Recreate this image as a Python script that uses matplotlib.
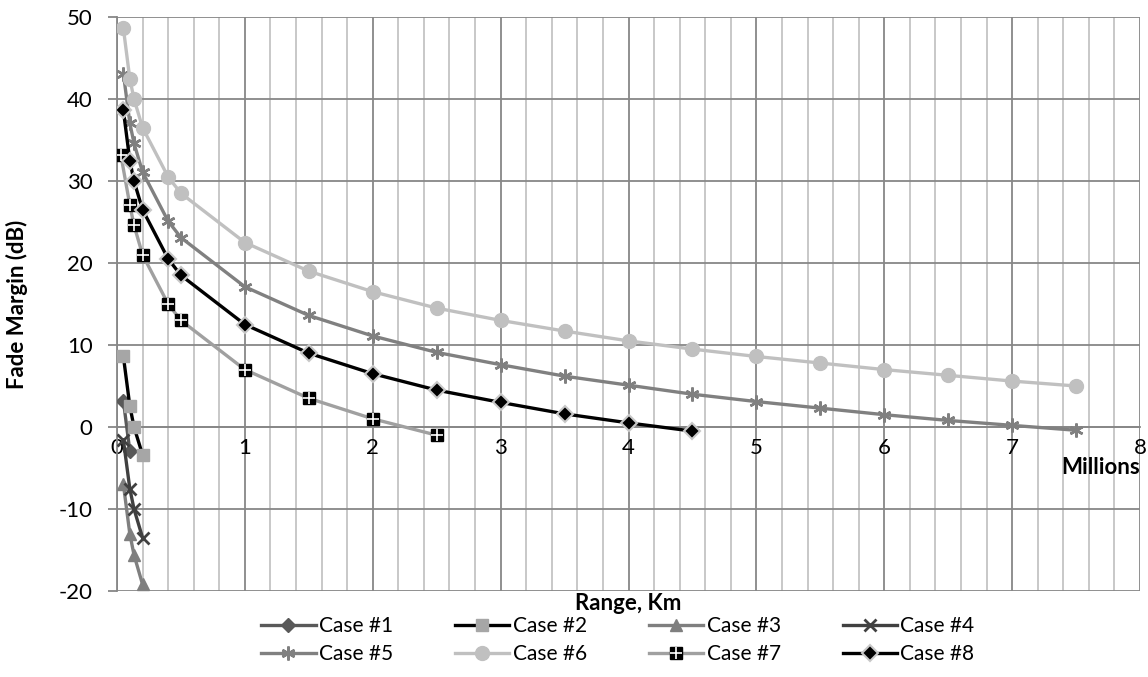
import matplotlib

matplotlib.use("Agg")
import matplotlib.pyplot as plt
from matplotlib.legend_handler import HandlerTuple
from matplotlib.ticker import MultipleLocator

plt.rcParams["font.family"] = ["Lato", "DejaVu Sans"]
plt.rcParams["axes.unicode_minus"] = False

# range in millions of km, fade margin in dB
x_short = [0.05, 0.1, 0.133, 0.2]
x_full = [0.05, 0.1, 0.133, 0.2, 0.4, 0.5, 1, 1.5, 2, 2.5, 3, 3.5, 4, 4.5, 5, 5.5, 6, 6.5, 7, 7.5]

case1_x = [0.05, 0.1]
case1_y = [3.2, -2.9]
case2_y = [8.6, 2.6, 0.0, -3.4]
case3_y = [-7.0, -13.0, -15.6, -19.2]
case4_y = [-1.6, -7.5, -10.0, -13.5]
case5_y = [43.1, 37.1, 34.6, 31.1, 25.1, 23.1, 17.1, 13.6, 11.1, 9.1, 7.6, 6.2,
           5.1, 4.0, 3.1, 2.3, 1.5, 0.8, 0.2, -0.4]
case6_y = [48.6, 42.5, 40.0, 36.5, 30.5, 28.5, 22.5, 19.0, 16.5, 14.5, 13.0, 11.7,
           10.5, 9.5, 8.6, 7.8, 7.0, 6.3, 5.6, 5.0]
case7_x = [0.03, 0.1, 0.133, 0.2, 0.4, 0.5, 1, 1.5, 2, 2.5]
case7_y = [33.2, 27.1, 24.6, 21.0, 15.0, 13.0, 7.0, 3.5, 1.0, -1.0]
case8_x = [0.05, 0.1, 0.133, 0.2, 0.4, 0.5, 1, 1.5, 2, 2.5, 3, 3.5, 4, 4.5]
case8_y = [38.6, 32.5, 30.0, 26.5, 20.5, 18.5, 12.5, 9.0, 6.5, 4.5, 3.0, 1.6, 0.5, -0.5]

x_ticks = [0, 1, 2, 3, 4, 5, 6, 7, 8]
y_ticks = [-20, -10, 0, 10, 20, 30, 40, 50]
labels = ["Case #1", "Case #2", "Case #3", "Case #4",
          "Case #5", "Case #6", "Case #7", "Case #8"]

fig = plt.figure(figsize=(11.48, 6.77), dpi=100)
ax = fig.add_axes([117 / 1148, 1 - 591 / 677, (1140 - 117) / 1148, (591 - 17) / 677])

lw = 2.4
ms = 8
h1, = ax.plot(case1_x, case1_y, color="#595959", lw=lw, marker="D", ms=7, zorder=3)
h2, = ax.plot(x_short, case2_y, color="black", lw=lw, marker="s", ms=ms,
              mfc="#a6a6a6", mec="#a6a6a6", zorder=3)
h3, = ax.plot(x_short, case3_y, color="#7f7f7f", lw=lw, marker="^", ms=ms + 1, zorder=3)
h4, = ax.plot(x_short, case4_y, color="#404040", lw=lw, marker="x", ms=ms, mew=2, zorder=3)
h5, = ax.plot(x_full, case5_y, color="#808080", lw=lw, marker=(6, 2, 0), ms=ms + 2, mew=1.8, zorder=3)
h6, = ax.plot(x_full, case6_y, color="#c0c0c0", lw=lw, marker="o", ms=ms + 2, zorder=3)
h7, = ax.plot(case7_x, case7_y, color="#a0a0a0", lw=lw, marker="s", ms=ms + 1,
              mfc="black", mec="black", zorder=3)
h7b, = ax.plot(case7_x, case7_y, ls="none", marker="+", ms=ms + 1, mew=1.2, color="white", zorder=4)
h8, = ax.plot(case8_x, case8_y, color="black", lw=lw, marker="D", ms=ms,
              mfc="black", mec="#c8c8c8", mew=1.5, zorder=3)

ax.set_xlim(0, 8)
ax.set_ylim(-20, 50)
ax.set_xticks(x_ticks)
ax.set_yticks(y_ticks)
ax.xaxis.set_minor_locator(MultipleLocator(0.2))
ax.grid(which="major", color="#878787", lw=1.3)
ax.grid(which="minor", axis="x", color="#c4c4c4", lw=1.3)
ax.set_axisbelow(True)

for side in ["top", "right"]:
    ax.spines[side].set_visible(False)
ax.spines["bottom"].set_position(("data", 0))
for side in ["bottom", "left"]:
    ax.spines[side].set_color("#878787")
    ax.spines[side].set_linewidth(1.3)
ax.tick_params(axis="x", which="both", length=0, labelsize=16, pad=8)
ax.tick_params(axis="y", length=6.5, color="#878787", width=1.3, labelsize=16, pad=11)

ax.text(8, -4.9, "Millions", ha="right", va="center", fontsize=16, fontweight="bold")
fig.text(628 / 1148, 1 - 603 / 677, "Range, Km", ha="center", va="center",
         fontsize=16, fontweight="bold")
ax.set_ylabel("Fade Margin (dB)", fontsize=16, fontweight="bold")
ax.yaxis.set_label_coords(-0.087, 0.5)

# legend fills column-wise, so interleave to get two rows of four
handles = [h1, h2, h3, h4, h5, h6, (h7, h7b), h8]
order = [0, 4, 1, 5, 2, 6, 3, 7]
fig.legend([handles[i] for i in order], [labels[i] for i in order],
           loc="center", bbox_to_anchor=(618 / 1148, 1 - 640 / 677),
           ncol=4, frameon=False, fontsize=15, handlelength=2.6, handletextpad=0.15,
           columnspacing=3.0, labelspacing=0.4,
           handler_map={tuple: HandlerTuple(ndivide=1)})

fig.savefig("out.png", dpi=100)
